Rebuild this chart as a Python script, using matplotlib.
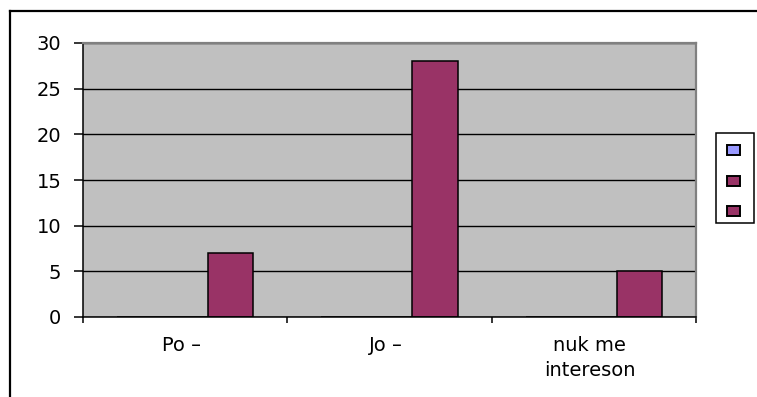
#!/usr/bin/env python3
"""Clustered column chart of survey answers (Excel-style gray plot area)."""

from __future__ import annotations

import matplotlib

matplotlib.use("Agg")

import matplotlib.pyplot as plt
import numpy as np
from matplotlib.lines import Line2D
from matplotlib.patches import Rectangle


CATEGORIES = ["Po \u2013", "Jo \u2013", "nuk me\nintereson"]
SERIES_1 = [0, 0, 0]
SERIES_2 = [0, 0, 0]
SERIES_3 = [7, 28, 5]
SERIES_COLORS = ["#9999FF", "#993366", "#993366"]
Y_TICKS = [0, 5, 10, 15, 20, 25, 30]

FIG_W, FIG_H, DPI = 757, 397, 100
FONT = "DejaVu Sans"
FONT_SIZE = 14


def px_box(x0: float, y0: float, x1: float, y1: float) -> tuple[float, float, float, float]:
    """Pixel box (top-left origin) -> figure fraction (left, bottom, width, height)."""
    return x0 / FIG_W, 1 - y1 / FIG_H, (x1 - x0) / FIG_W, (y1 - y0) / FIG_H


def draw_chart(out_path: str) -> None:
    plt.rcParams["font.family"] = [FONT]
    fig = plt.figure(figsize=(FIG_W / DPI, FIG_H / DPI), dpi=DPI)

    ax = fig.add_axes(px_box(83, 43, 696, 317))
    ax.set_facecolor("#C0C0C0")

    series = [SERIES_1, SERIES_2, SERIES_3]
    n = len(series)
    width = 1.0 / (n + 1.5)  # gap width 150%
    x = np.arange(len(CATEGORIES))
    for i, (values, color) in enumerate(zip(series, SERIES_COLORS)):
        offset = (i - (n - 1) / 2) * width
        ax.bar(x + offset, values, width, color=color, edgecolor="black", linewidth=1.1, zorder=2)

    ax.set_xlim(-0.5, len(CATEGORIES) - 0.5)
    ax.set_ylim(0, 30)
    ax.set_yticks(Y_TICKS)
    ax.set_yticklabels([str(t) for t in Y_TICKS], fontsize=FONT_SIZE)
    ax.yaxis.grid(True, color="black", linewidth=1.0, zorder=1)
    ax.set_axisbelow(True)

    # category ticks sit on group boundaries, labels at group centres
    ax.set_xticks(np.arange(len(CATEGORIES) + 1) - 0.5)
    ax.set_xticklabels([])
    ax.set_xticks(x - 0.02, minor=True)
    ax.set_xticklabels(CATEGORIES, minor=True, fontsize=FONT_SIZE, linespacing=1.4)
    ax.tick_params(axis="x", which="major", direction="out", length=4.5, width=1.1, color="black")
    ax.tick_params(axis="x", which="minor", length=0, pad=14)
    ax.tick_params(axis="y", direction="out", length=6.5, width=1.1, pad=9, color="black")

    for side in ("left", "bottom"):
        ax.spines[side].set_color("black")
        ax.spines[side].set_linewidth(1.1)
    for side in ("top", "right"):
        ax.spines[side].set_color("#808080")
        ax.spines[side].set_linewidth(1.6)

    # legend box with colour keys only
    left, bottom, w, h = px_box(716, 133, 754, 223)
    fig.add_artist(Rectangle((left, bottom), w, h, transform=fig.transFigure,
                             facecolor="white", edgecolor="black", linewidth=1.1))
    for i, color in enumerate(SERIES_COLORS):
        cy = 150 + i * 30.5
        left, bottom, w, h = px_box(727, cy - 5, 740, cy + 5)
        fig.add_artist(Rectangle((left, bottom), w, h, transform=fig.transFigure,
                                 facecolor=color, edgecolor="black", linewidth=1.4))

    # outer chart border: only its top and left edges fall on the canvas
    x0, y0 = 10 / FIG_W, 1 - 11 / FIG_H
    fig.add_artist(Line2D([x0, 1.0], [y0, y0], transform=fig.transFigure,
                          color="black", linewidth=1.6, solid_capstyle="projecting"))
    fig.add_artist(Line2D([x0, x0], [0.0, y0], transform=fig.transFigure,
                          color="black", linewidth=1.6, solid_capstyle="projecting"))

    fig.savefig(out_path, dpi=DPI)
    plt.close(fig)


def main() -> None:
    draw_chart("out.png")


if __name__ == "__main__":
    main()
